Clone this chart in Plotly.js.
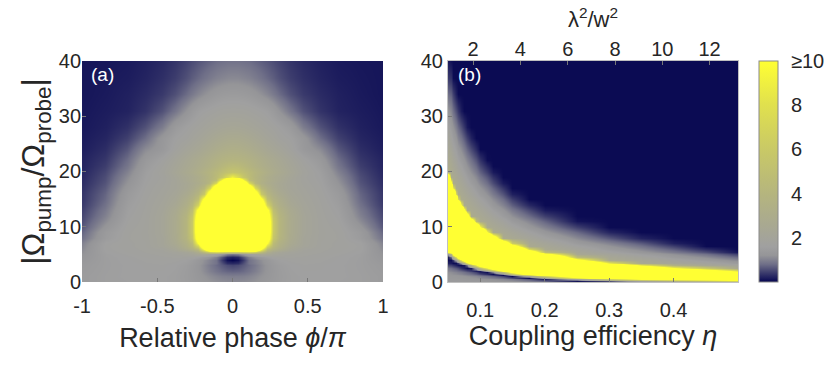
<!DOCTYPE html>
<html>
<head>
<meta charset="utf-8">
<script src="https://cdn.plot.ly/plotly-3.0.1.min.js"></script>
<style>html,body{margin:0;padding:0;background:#fff;}#chart{width:831px;height:369px;}</style>
</head>
<body>
<div id="chart"></div>
<script>
// ---- Panel (a): relative phase vs |Ω_pump/Ω_probe| ----
const phaseValues = [-1,-0.85,-0.7,-0.58,-0.47,-0.38,-0.31,-0.27,-0.23,-0.19,-0.15,-0.11,-0.07,-0.035,0,0.035,0.07,0.11,0.15,0.19,0.23,0.27,0.31,0.38,0.47,0.58,0.7,0.85,1];
const ratioValuesA = [0,1,2,3,3.5,4,4.5,5,5.5,6,6.5,7,8,9,10,11,12,13,14,15,16,17,18,18.5,19,20,21,22,24,26,28,31,34,37,40];
const gainA = [
 [1.45,1.55,1.58,1.6,1.6,1.55,1.47,1.4,1.33,1.26,1.2,1.15,1.12,1.1,1.1,1.1,1.12,1.15,1.2,1.26,1.33,1.4,1.47,1.55,1.6,1.6,1.58,1.55,1.45],
 [1.45,1.55,1.6,1.62,1.6,1.55,1.45,1.37,1.28,1.19,1.11,1.04,0.99,0.97,0.96,0.97,0.99,1.04,1.11,1.19,1.28,1.37,1.45,1.55,1.6,1.62,1.6,1.55,1.45],
 [1.42,1.54,1.6,1.63,1.63,1.57,1.46,1.36,1.24,1.11,0.98,0.87,0.78,0.73,0.71,0.73,0.78,0.87,0.98,1.11,1.24,1.36,1.46,1.57,1.63,1.63,1.6,1.54,1.42],
 [1.38,1.53,1.6,1.64,1.65,1.6,1.49,1.38,1.24,1.08,0.92,0.78,0.65,0.55,0.5,0.55,0.65,0.78,0.92,1.08,1.24,1.38,1.49,1.6,1.65,1.64,1.6,1.53,1.38],
 [1.35,1.53,1.61,1.65,1.67,1.63,1.53,1.42,1.28,1.12,0.98,0.85,0.55,0.3,0.25,0.3,0.55,0.85,0.98,1.12,1.28,1.42,1.53,1.63,1.67,1.65,1.61,1.53,1.35],
 [1.3,1.53,1.62,1.67,1.7,1.68,1.6,1.48,1.32,1.15,1.0,0.85,0.4,0.1,0.02,0.1,0.4,0.85,1.0,1.15,1.32,1.48,1.6,1.68,1.7,1.67,1.62,1.53,1.3],
 [1.25,1.54,1.63,1.7,1.75,1.78,1.76,1.7,1.58,1.4,1.2,1.0,0.6,0.28,0.2,0.28,0.6,1.0,1.2,1.4,1.58,1.7,1.76,1.78,1.75,1.7,1.63,1.54,1.25],
 [1.2,1.56,1.67,1.74,1.8,1.88,1.98,2.1,2.3,2.4,2.1,1.7,1.3,1.0,0.9,1.0,1.3,1.7,2.1,2.4,2.3,2.1,1.98,1.88,1.8,1.74,1.67,1.56,1.2],
 [1.15,1.6,1.7,1.77,1.84,1.95,2.15,2.4,3.0,4.5,6.5,7.5,7,6.5,6.3,6.5,7,7.5,6.5,4.5,3.0,2.4,2.15,1.95,1.84,1.77,1.7,1.6,1.15],
 [1.1,1.63,1.72,1.8,1.9,2.27,2.9,3.5,4.6,10,18,20,20,20,20,20,20,20,18,10,4.6,3.5,2.9,2.27,1.9,1.8,1.72,1.63,1.1],
 [1.05,1.64,1.74,1.82,2.05,2.45,3.3,4.2,7,15,23,30,30,30,30,30,30,30,23,15,7,4.2,3.3,2.45,2.05,1.82,1.74,1.64,1.05],
 [1.0,1.62,1.74,1.82,2.1,2.6,3.5,4.6,10,18,26,30,30,30,30,30,30,30,26,18,10,4.6,3.5,2.6,2.1,1.82,1.74,1.62,1.0],
 [0.84,1.45,1.76,1.84,2.1,2.75,3.9,5.6,13,21,29,30,30,30,30,30,30,30,29,21,13,5.6,3.9,2.75,2.1,1.84,1.76,1.45,0.84],
 [0.73,1.4,1.75,1.85,2.15,2.8,4.0,6,14,22,30,30,30,30,30,30,30,30,30,22,14,6,4.0,2.8,2.15,1.85,1.75,1.4,0.73],
 [0.62,1.25,1.72,1.84,2.15,2.8,4.0,6,14.4,22,30,30,30,30,30,30,30,30,30,22,14.4,6,4.0,2.8,2.15,1.84,1.72,1.25,0.62],
 [0.55,1.1,1.66,1.83,2.15,2.8,4.0,6,14,22,30,30,30,30,30,30,30,30,30,22,14,6,4.0,2.8,2.15,1.83,1.66,1.1,0.55],
 [0.5,1.0,1.62,1.82,2.15,2.75,3.9,5.6,13,21,29,30,30,30,30,30,30,30,29,21,13,5.6,3.9,2.75,2.15,1.82,1.62,1.0,0.5],
 [0.45,0.92,1.57,1.8,2.1,2.65,3.6,4.9,11,19,27,30,30,30,30,30,30,30,27,19,11,4.9,3.6,2.65,2.1,1.8,1.57,0.92,0.45],
 [0.4,0.84,1.52,1.78,2.05,2.45,3.25,4.2,7,15,23,30,30,30,30,30,30,30,23,15,7,4.2,3.25,2.45,2.05,1.78,1.52,0.84,0.4],
 [0.37,0.77,1.45,1.75,2.0,2.3,3.0,3.6,4.9,11,19,27,30,30,30,30,30,27,19,11,4.9,3.6,3.0,2.3,2.0,1.75,1.45,0.77,0.37],
 [0.36,0.73,1.4,1.72,1.95,2.2,2.7,3.2,4.0,6,14,22,30,30,30,30,30,22,14,6,4.0,3.2,2.7,2.2,1.95,1.72,1.4,0.73,0.36],
 [0.33,0.66,1.3,1.68,1.9,2.1,2.45,2.8,3.35,4.3,7.5,16,24,30,30,30,24,16,7.5,4.3,3.35,2.8,2.45,2.1,1.9,1.68,1.3,0.66,0.33],
 [0.3,0.6,1.2,1.64,1.85,2.1,2.4,2.65,2.95,3.4,4.3,7.5,16,23,30,23,16,7.5,4.3,3.4,2.95,2.65,2.4,2.1,1.85,1.64,1.2,0.6,0.3],
 [0.29,0.57,1.15,1.62,1.82,2.1,2.5,2.75,3.05,3.45,4.0,4.8,10,17,20,17,10,4.8,4.0,3.45,3.05,2.75,2.5,2.1,1.82,1.62,1.15,0.57,0.29],
 [0.27,0.55,1.1,1.6,1.8,2.15,2.5,2.7,3.0,3.4,3.9,4.6,5.8,7.5,9.2,7.5,5.8,4.6,3.9,3.4,3.0,2.7,2.5,2.15,1.8,1.6,1.1,0.55,0.27],
 [0.25,0.5,1.0,1.55,1.85,2.25,2.65,2.9,3.2,3.55,3.95,4.4,4.9,5.3,5.5,5.3,4.9,4.4,3.95,3.55,3.2,2.9,2.65,2.25,1.85,1.55,1.0,0.5,0.25],
 [0.23,0.43,0.88,1.45,1.78,2.15,2.5,2.7,2.95,3.2,3.5,3.85,4.2,4.5,4.6,4.5,4.2,3.85,3.5,3.2,2.95,2.7,2.5,2.15,1.78,1.45,0.88,0.43,0.23],
 [0.22,0.38,0.8,1.35,1.68,2.05,2.4,2.6,2.8,3.05,3.3,3.55,3.75,3.85,3.9,3.85,3.75,3.55,3.3,3.05,2.8,2.6,2.4,2.05,1.68,1.35,0.8,0.38,0.22],
 [0.18,0.3,0.62,1.1,1.35,1.75,2.05,2.2,2.35,2.55,2.75,2.95,3.1,3.2,3.25,3.2,3.1,2.95,2.75,2.55,2.35,2.2,2.05,1.75,1.35,1.1,0.62,0.3,0.18],
 [0.16,0.24,0.45,0.8,1.3,1.62,1.75,1.92,2.05,2.2,2.35,2.5,2.62,2.7,2.72,2.7,2.62,2.5,2.35,2.2,2.05,1.92,1.75,1.62,1.3,0.8,0.45,0.24,0.16],
 [0.14,0.2,0.33,0.58,0.95,1.4,1.62,1.72,1.82,1.93,2.03,2.12,2.2,2.24,2.25,2.24,2.2,2.12,2.03,1.93,1.82,1.72,1.62,1.4,0.95,0.58,0.33,0.2,0.14],
 [0.13,0.17,0.22,0.35,0.58,0.88,1.2,1.4,1.55,1.63,1.7,1.77,1.82,1.84,1.85,1.84,1.82,1.77,1.7,1.63,1.55,1.4,1.2,0.88,0.58,0.35,0.22,0.17,0.13],
 [0.12,0.15,0.2,0.28,0.4,0.57,0.78,0.92,1.05,1.16,1.26,1.34,1.39,1.41,1.42,1.41,1.39,1.34,1.26,1.16,1.05,0.92,0.78,0.57,0.4,0.28,0.2,0.15,0.12],
 [0.12,0.14,0.17,0.23,0.32,0.43,0.57,0.67,0.76,0.85,0.93,1.0,1.04,1.07,1.08,1.07,1.04,1.0,0.93,0.85,0.76,0.67,0.57,0.43,0.32,0.23,0.17,0.14,0.12],
 [0.12,0.13,0.15,0.2,0.27,0.36,0.47,0.54,0.61,0.67,0.73,0.79,0.82,0.84,0.84,0.84,0.82,0.79,0.73,0.67,0.61,0.54,0.47,0.36,0.27,0.2,0.15,0.13,0.12]
];

// ---- Panel (b): coupling efficiency vs |Ω_pump/Ω_probe| ----
const etaValues = [0.05,0.054,0.058,0.062,0.066,0.07,0.075,0.08,0.086,0.093,0.1,0.11,0.12,0.135,0.15,0.175,0.2,0.25,0.3,0.35,0.4,0.45,0.5];
const ratioValuesB = [0,0.25,0.5,0.75,1,1.25,1.5,1.75,2,2.5,3,3.5,4,4.5,5,5.5,6,6.5,7,8,9,10,11,12,13,14,15,16,17,18,19,20,21,22,24,26,28,31,34,37,40];
const gainB = [
 [1.4,1.4,1.4,1.4,1.4,1.4,1.38,1.37,1.36,1.35,1.34,1.32,1.3,1.27,1.25,1.1,0.9,0.3,0.12,0.1,0.1,0.1,0.15],
 [1.4,1.39,1.39,1.39,1.39,1.39,1.37,1.36,1.35,1.33,1.32,1.29,1.26,1.22,1.17,0.98,0.71,0.09,0.54,1.68,3.3,4.75,6.77],
 [1.38,1.38,1.37,1.37,1.37,1.36,1.34,1.32,1.3,1.28,1.25,1.21,1.16,1.07,0.94,0.61,0.16,1.64,6.07,10,12,13,14],
 [1.36,1.35,1.34,1.33,1.32,1.31,1.28,1.26,1.23,1.19,1.13,1.06,0.98,0.81,0.55,0.05,1.37,8.11,13,15,17,18,19],
 [1.32,1.31,1.3,1.28,1.26,1.24,1.2,1.17,1.12,1.06,0.97,0.86,0.72,0.46,0.05,1.78,6.71,14,18,20,22,23,24],
 [1.28,1.26,1.24,1.21,1.19,1.16,1.11,1.05,0.99,0.89,0.76,0.61,0.4,0.05,1.32,6.96,13,19,23,25,27,28,23],
 [1.22,1.19,1.16,1.13,1.09,1.05,0.98,0.91,0.83,0.69,0.51,0.29,0.05,1.16,5.12,13,18,24,28,30,30,24,18],
 [1.16,1.12,1.08,1.03,0.98,0.92,0.84,0.75,0.64,0.46,0.2,0.08,1.02,4.47,11,18,23,29,30,30,25,19,13],
 [1.08,1.03,0.98,0.92,0.85,0.78,0.68,0.56,0.42,0.18,0.17,1.29,3.94,10,16,23,28,30,30,28,20,14,8.7],
 [0.9,0.82,0.74,0.64,0.55,0.35,0.2,0.06,0.16,1.56,4.47,8.86,14,20,26,30,30,30,28,18,10,6.1,2.4],
 [0.5,0.45,0.35,0.2,0.1,0.05,0.15,0.9,4.02,8.92,14,19,24,30,30,30,30,30,18,8.7,3.5,2.29,1.9],
 [0.2,0.15,0.06,0.08,0.4,1.3,3.5,8.11,13,19,24,29,30,30,30,30,30,22,8.7,2.58,2.2,1.84,1.4],
 [0.06,0.06,0.4,1.5,4,8.27,13,18,23,29,30,30,30,30,30,30,30,12,2.63,2.23,1.8,1.4,1.08],
 [0.2,0.8,3,8,14,18,23,28,30,30,30,30,30,30,30,30,22,4.8,2.32,1.89,1.4,1.12,0.76],
 [1.5,4,12,19,24,28,30,30,30,30,30,30,30,30,30,26,12,2.5,2.02,1.54,1.16,0.84,0.44],
 [10,14,23,29,30,30,30,30,30,30,30,30,30,30,30,16,4.8,2.23,1.71,1.27,0.92,0.56,0.11],
 [20,27,30,30,30,30,30,30,30,30,30,30,30,30,24,7.4,2.58,1.95,1.4,1.06,0.68,0.28,0.05],
 [30,30,30,30,30,30,30,30,30,30,30,30,30,28,14,2.71,2.34,1.68,1.21,0.85,0.44,0.05,0.05],
 [30,30,30,30,30,30,30,30,30,30,30,30,30,18,6.1,2.49,2.11,1.4,1.01,0.64,0.19,0.05,0.05],
 [30,30,30,30,30,30,30,30,30,30,30,30,16,2.8,2.52,2.07,1.64,1.08,0.63,0.22,0.05,0.05,0.05],
 [30,30,30,30,30,30,30,30,30,30,30,10,2.78,2.47,2.14,1.65,1.26,0.76,0.24,0.05,0.05,0.05,0.05],
 [30,30,30,30,30,30,30,30,30,22,10,2.72,2.48,2.13,1.77,1.3,0.99,0.44,0.05,0.05,0.05,0.05,0.05],
 [30,30,30,30,30,30,30,30,18,4.8,2.73,2.44,2.17,1.8,1.4,1.04,0.71,0.11,0.05,0.05,0.05,0.05,0.05],
 [30,30,30,30,30,30,30,16,2.86,2.65,2.47,2.16,1.86,1.47,1.16,0.78,0.44,0.05,0.05,0.05,0.05,0.05,0.05],
 [30,30,30,30,30,30,12,2.84,2.63,2.4,2.2,1.88,1.55,1.23,0.92,0.52,0.16,0.05,0.05,0.05,0.05,0.05,0.05],
 [30,30,30,30,26,10,2.81,2.62,2.4,2.15,1.93,1.6,1.3,1.01,0.68,0.26,0.05,0.05,0.05,0.05,0.05,0.05,0.05],
 [30,30,30,26,7.4,2.8,2.6,2.4,2.17,1.9,1.67,1.35,1.11,0.8,0.44,0.05,0.05,0.05,0.05,0.05,0.05,0.05,0.05],
 [30,30,28,7.4,2.77,2.6,2.39,2.18,1.93,1.65,1.4,1.16,0.92,0.59,0.2,0.05,0.05,0.05,0.05,0.05,0.05,0.05,0.05],
 [30,30,8.7,2.78,2.57,2.4,2.18,1.96,1.7,1.4,1.22,0.98,0.73,0.37,0.05,0.05,0.05,0.05,0.05,0.05,0.05,0.05,0.05],
 [30,12,2.81,2.6,2.38,2.2,1.97,1.73,1.47,1.24,1.05,0.8,0.53,0.16,0.05,0.05,0.05,0.05,0.05,0.05,0.05,0.05,0.05],
 [20,2.85,2.64,2.41,2.18,2.0,1.76,1.51,1.29,1.08,0.87,0.62,0.34,0.05,0.05,0.05,0.05,0.05,0.05,0.05,0.05,0.05,0.05],
 [3.5,2.69,2.47,2.23,1.99,1.8,1.55,1.33,1.14,0.92,0.7,0.43,0.15,0.05,0.05,0.05,0.05,0.05,0.05,0.05,0.05,0.05,0.05],
 [2.77,2.53,2.3,2.04,1.79,1.6,1.36,1.18,0.98,0.76,0.52,0.25,0.05,0.05,0.05,0.05,0.05,0.05,0.05,0.05,0.05,0.05,0.05],
 [2.62,2.37,2.13,1.86,1.6,1.4,1.22,1.03,0.83,0.6,0.35,0.07,0.05,0.05,0.05,0.05,0.05,0.05,0.05,0.05,0.05,0.05,0.05],
 [2.31,2.05,1.79,1.49,1.27,1.12,0.93,0.73,0.52,0.28,0.05,0.05,0.05,0.05,0.05,0.05,0.05,0.05,0.05,0.05,0.05,0.05,0.05],
 [2.01,1.72,1.45,1.21,1.01,0.85,0.65,0.44,0.21,0.05,0.05,0.05,0.05,0.05,0.05,0.05,0.05,0.05,0.05,0.05,0.05,0.05,0.05],
 [1.7,1.4,1.19,0.95,0.76,0.57,0.36,0.14,0.05,0.05,0.05,0.05,0.05,0.05,0.05,0.05,0.05,0.05,0.05,0.05,0.05,0.05,0.05],
 [1.25,1.04,0.81,0.56,0.37,0.16,0.05,0.05,0.05,0.05,0.05,0.05,0.05,0.05,0.05,0.05,0.05,0.05,0.05,0.05,0.05,0.05,0.05],
 [0.8,0.68,0.44,0.18,0.05,0.05,0.05,0.05,0.05,0.05,0.05,0.05,0.05,0.05,0.05,0.05,0.05,0.05,0.05,0.05,0.05,0.05,0.05],
 [0.4,0.32,0.06,0.05,0.05,0.05,0.05,0.05,0.05,0.05,0.05,0.05,0.05,0.05,0.05,0.05,0.05,0.05,0.05,0.05,0.05,0.05,0.05],
 [0.15,0.08,0.05,0.05,0.05,0.05,0.05,0.05,0.05,0.05,0.05,0.05,0.05,0.05,0.05,0.05,0.05,0.05,0.05,0.05,0.05,0.05,0.05]
];

// ---- Ticks ----
const phaseTicks = [-1,-0.5,0,0.5,1];
const phaseTickText = ['-1','-0.5','0','0.5','1'];
const ratioTicks = [0,10,20,30,40];
const etaTicks = [0.1,0.2,0.3,0.4];
const etaTickText = ['0.1','0.2','0.3','0.4'];
const lambdaTicks = [2,4,6,8,10,12];
const colorTicks = [2,4,6,8,10];
const colorTickText = ['2','4','6','8','\u226510'];

const cscale = [
 [0,'#03034e'],[0.015,'#1a1a5c'],[0.04,'#3a3a6c'],[0.08,'#6f6f88'],[0.12,'#959598'],
 [0.16,'#a0a0a0'],[0.25,'#a8a892'],[0.4,'#b5b57e'],[0.6,'#c9c966'],[0.8,'#e0e04e'],[1,'#ffff33']
];

const FONT = 'Liberation Sans, Arial, Helvetica, sans-serif';
const TXT = '#262626';
const tickFont = {family: FONT, size: 20, color: TXT};

const traces = [
 {type:'heatmap', x: phaseValues, y: ratioValuesA, z: gainA, xaxis:'x', yaxis:'y',
  colorscale: cscale, zmin:0, zmax:10, zsmooth:'best', showscale:false, hoverinfo:'skip'},
 {type:'heatmap', x: etaValues, y: ratioValuesB, z: gainB, xaxis:'x2', yaxis:'y2',
  colorscale: cscale, zmin:0, zmax:10, zsmooth:'best', showscale:true, hoverinfo:'skip',
  colorbar:{x:0.9134, xanchor:'left', y:0.2358, yanchor:'bottom', len:221, lenmode:'pixels',
   thickness:19, thicknessmode:'pixels', outlinecolor:'#8a8a8a', outlinewidth:1,
   tickvals: colorTicks, ticktext: colorTickText, ticks:'outside', ticklen:9, tickcolor:'rgba(0,0,0,0)',
   tickfont: tickFont, xpad:0, ypad:0}},
 {type:'scatter', x: lambdaTicks, y: lambdaTicks.map(() => null), xaxis:'x3', yaxis:'y2',
  mode:'markers', showlegend:false, hoverinfo:'skip'}
];

const dom = [0.2358, 0.8347];
const layout = {
 width: 831, height: 369,
 margin: {l:0, r:0, t:0, b:0},
 paper_bgcolor:'#ffffff', plot_bgcolor:'#ffffff',
 font: {family: FONT, color: TXT},
 showlegend:false,
 xaxis: {domain:[0.0987,0.4609], range:[-1,1], anchor:'y', tickvals: phaseTicks, ticktext: phaseTickText,
   tickfont: tickFont, ticks:'inside', ticklen:4, tickcolor:'#777', ticklabelstandoff:10,
   showgrid:false, zeroline:false, showline:false,
   title:{text:'Relative phase <i>\u03d5</i>/<i>\u03c0</i>', font:{family:FONT, size:27, color:TXT}, standoff:12}},
 yaxis: {domain: dom, range:[0,40], anchor:'x', tickvals: ratioTicks, tickfont: tickFont, ticks:'inside', ticklen:4,
   tickcolor:'#777', showgrid:false, zeroline:false, showline:false,
   title:{text:'|\u03a9<sub>pump</sub>/\u03a9<sub>probe</sub>|', font:{family:FONT, size:32, color:TXT}, standoff:4}},
 xaxis2: {domain:[0.5391,0.8881], range:[0.05,0.5], anchor:'y2', tickvals: etaTicks, ticktext: etaTickText,
   tickfont: tickFont, ticks:'inside', ticklen:4, tickcolor:'#777', ticklabelstandoff:10,
   showgrid:false, zeroline:false, showline:true, mirror:true, linecolor:'#c0c0c0', linewidth:1,
   title:{text:'Coupling efficiency <i>\u03b7</i>', font:{family:FONT, size:27, color:TXT}, standoff:6}},
 yaxis2: {domain: dom, range:[0,40], anchor:'x2', tickvals: ratioTicks, tickfont: tickFont, ticks:'inside', ticklen:4,
   tickcolor:'#777', showgrid:false, zeroline:false, showline:true, mirror:true, linecolor:'#c0c0c0', linewidth:1},
 xaxis3: {overlaying:'x2', side:'top', anchor:'y2', range:[0.94,13.2], tickvals: lambdaTicks,
   tickfont: tickFont, ticks:'inside', ticklen:4, tickcolor:'#777', showgrid:false, zeroline:false,
   title:{text:'\u03bb<sup>2</sup>/w<sup>2</sup>', font:{family:FONT, size:22, color:TXT}, standoff:4}},
 annotations: [
  {text:'(a)', xref:'paper', yref:'paper', x:0.107, y:0.797, xanchor:'left', yanchor:'middle', showarrow:false,
   font:{family:FONT, size:19, color:'#ffffff'}},
  {text:'(b)', xref:'paper', yref:'paper', x:0.549, y:0.797, xanchor:'left', yanchor:'middle', showarrow:false,
   font:{family:FONT, size:19, color:'#ffffff'}}
 ]
};

Plotly.newPlot('chart', traces, layout, {staticPlot:true, displayModeBar:false});
</script>
</body>
</html>
